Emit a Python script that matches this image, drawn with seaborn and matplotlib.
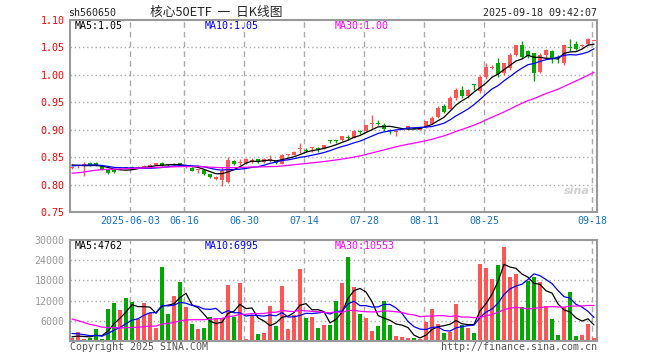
import numpy as np
import pandas as pd
import seaborn as sns
import matplotlib
matplotlib.use('Agg')
import matplotlib.pyplot as plt

# trading days shown: 2025-05-19 .. 2025-09-18 (06-02 holiday)
dates = pd.bdate_range('2025-05-19', '2025-09-18')
dates = dates[dates != pd.Timestamp('2025-06-02')]

open_ = [0.831, 0.833, 0.835, 0.840, 0.840, 0.833, 0.826, 0.826, 0.827, 0.831,
         0.832, 0.831, 0.832, 0.831, 0.836, 0.840, 0.837, 0.836, 0.839, 0.832,
         0.831, 0.827, 0.826, 0.819, 0.811, 0.809, 0.805, 0.843, 0.840, 0.840,
         0.843, 0.846, 0.842, 0.845, 0.843, 0.838, 0.854, 0.854, 0.864, 0.863,
         0.866, 0.865, 0.865, 0.881, 0.881, 0.881, 0.886, 0.885, 0.897, 0.898,
         0.911, 0.913, 0.909, 0.899, 0.896, 0.900, 0.902, 0.904, 0.900, 0.905,
         0.911, 0.923, 0.943, 0.938, 0.958, 0.973, 0.961, 0.982, 0.970, 0.997,
         1.013, 1.022, 1.003, 1.012, 1.036, 1.054, 1.043, 1.039, 1.006, 1.036,
         1.044, 1.032, 1.021, 1.051, 1.056, 1.052, 1.056, 1.062]
high = [0.833, 0.836, 0.841, 0.841, 0.841, 0.834, 0.827, 0.827, 0.830, 0.831,
        0.833, 0.834, 0.835, 0.837, 0.840, 0.841, 0.838, 0.840, 0.840, 0.835,
        0.832, 0.829, 0.827, 0.820, 0.816, 0.832, 0.851, 0.845, 0.847, 0.848,
        0.848, 0.847, 0.848, 0.853, 0.845, 0.855, 0.856, 0.861, 0.875, 0.866,
        0.869, 0.868, 0.873, 0.881, 0.882, 0.889, 0.891, 0.899, 0.899, 0.909,
        0.926, 0.917, 0.913, 0.902, 0.900, 0.903, 0.907, 0.905, 0.904, 0.916,
        0.925, 0.944, 0.946, 0.961, 0.976, 0.980, 0.975, 0.984, 0.999, 1.021,
        1.018, 1.030, 1.022, 1.039, 1.055, 1.061, 1.046, 1.040, 1.039, 1.047,
        1.046, 1.036, 1.056, 1.065, 1.062, 1.056, 1.068, 1.062]
low = [0.829, 0.831, 0.815, 0.833, 0.833, 0.826, 0.820, 0.821, 0.826, 0.828,
       0.829, 0.830, 0.831, 0.830, 0.835, 0.834, 0.834, 0.833, 0.833, 0.830,
       0.824, 0.821, 0.818, 0.812, 0.809, 0.797, 0.803, 0.836, 0.836, 0.838,
       0.840, 0.840, 0.840, 0.842, 0.838, 0.837, 0.852, 0.853, 0.858, 0.859,
       0.859, 0.860, 0.864, 0.876, 0.876, 0.880, 0.882, 0.884, 0.893, 0.897,
       0.899, 0.909, 0.898, 0.893, 0.888, 0.899, 0.901, 0.901, 0.899, 0.903,
       0.910, 0.921, 0.931, 0.937, 0.955, 0.958, 0.958, 0.973, 0.967, 0.993,
       1.010, 0.997, 1.000, 1.009, 1.035, 1.030, 1.030, 0.988, 1.003, 1.030,
       1.021, 1.021, 1.018, 1.043, 1.046, 1.050, 1.054, 1.062]
close = [0.832, 0.835, 0.838, 0.835, 0.834, 0.827, 0.822, 0.823, 0.829, 0.830,
         0.831, 0.832, 0.834, 0.836, 0.839, 0.835, 0.836, 0.837, 0.834, 0.833,
         0.825, 0.828, 0.819, 0.813, 0.814, 0.825, 0.845, 0.838, 0.841, 0.846,
         0.844, 0.841, 0.846, 0.846, 0.839, 0.854, 0.855, 0.860, 0.865, 0.862,
         0.867, 0.864, 0.872, 0.880, 0.880, 0.888, 0.885, 0.898, 0.896, 0.908,
         0.913, 0.911, 0.901, 0.898, 0.898, 0.902, 0.906, 0.902, 0.903, 0.915,
         0.922, 0.940, 0.933, 0.958, 0.972, 0.961, 0.972, 0.981, 0.997, 1.014,
         1.014, 1.001, 1.021, 1.036, 1.054, 1.033, 1.034, 1.003, 1.036, 1.045,
         1.031, 1.030, 1.054, 1.049, 1.047, 1.055, 1.066, 1.062]
volume = [890, 2680, 500, 890, 3480, 500, 9430, 11220, 9140, 12710,
          11520, 6450, 11220, 8340, 3770, 21950, 7940, 13310, 17480, 10130,
          4970, 3480, 3770, 7050, 6750, 6800, 16600, 7050, 17180, 500,
          7750, 1990, 2280, 10330, 4370, 16290, 3480, 7650, 21350, 6750,
          7050, 3770, 4670, 4670, 12020, 17180, 24920, 15990, 7940, 6750,
          2880, 4370, 12020, 4670, 1390, 1090, 790, 790, 500, 5560,
          9430, 4960, 2280, 2580, 11100, 4670, 3770, 2280, 23000, 21800,
          18500, 22540, 28000, 19000, 19860, 10030, 17800, 18970, 17500, 10300,
          6650, 1700, 10000, 14500, 1500, 1900, 5000, 900]

# closes / volumes of the 29 sessions before the window (only feed the MAs)
prior_close = [0.812, 0.800, 0.778, 0.788, 0.797, 0.806, 0.812, 0.817, 0.817, 0.816,
               0.818, 0.820, 0.822, 0.824, 0.826, 0.825, 0.826, 0.825, 0.826, 0.827,
               0.828, 0.831, 0.833, 0.832, 0.838, 0.838, 0.842, 0.834, 0.833]
prior_volume = [16000, 18000, 17000, 14000, 15000, 12500, 12000, 11000, 11500, 10000,
                5000, 4500, 4000, 3800, 3500, 3500, 3550, 2700, 2800, 2650,
                3500, 3000, 3800, 2900, 2800, 1500, 1200, 1400, 1200]

tick_dates = ['2025-06-03', '2025-06-16', '2025-06-30', '2025-07-14',
              '2025-07-28', '2025-08-11', '2025-08-25', '2025-09-18']
tick_labels = ['2025-06-03', '06-16', '06-30', '07-14', '07-28', '08-11', '08-25', '09-18']
price_ticks = [0.75, 0.80, 0.85, 0.90, 0.95, 1.00, 1.05, 1.10]
vol_ticks = [6000, 12000, 18000, 24000, 30000]

RED = '#ff5555'
GREEN = '#00a800'
GRID = '#aaaaaa'

sns.set_style('white')
plt.rcParams['font.family'] = ['DejaVu Sans Mono', 'Noto Sans CJK SC']
plt.rcParams['font.size'] = 7.2

df = pd.DataFrame({'date': dates, 'open': open_, 'high': high, 'low': low,
                   'close': close, 'volume': volume})
df['idx'] = np.arange(len(df))
df['dir'] = np.where(df['close'] >= df['open'], 'up', 'down')

allc = pd.Series(prior_close + close)
allv = pd.Series(prior_volume + volume)
n0 = len(prior_close)
for n in (5, 10, 30):
    df['ma%d' % n] = allc.rolling(n).mean().iloc[n0:].values
    df['vma%d' % n] = allv.rolling(n).mean().iloc[n0:].values

W, H = 660, 360
fig = plt.figure(figsize=(W / 100, H / 100), dpi=100)


def axes_px(l, t, r, b):
    return fig.add_axes([l / W, 1 - b / H, (r - l) / W, (b - t) / H])


ax = axes_px(70, 20, 597, 212)
axv = axes_px(70, 240, 597, 341)

pos = {d: i for i, d in enumerate(df['date'].dt.strftime('%Y-%m-%d'))}
xt = [pos[d] - 1 / 3 for d in tick_dates]
xlim = (-1 / 3, 87.5)

# candles
cols = np.where(df['dir'] == 'up', RED, GREEN)
body_lo = np.minimum(df['open'], df['close'])
body_h = np.maximum((df['close'] - df['open']).abs(), 0.0018)
ax.vlines(df['idx'], df['low'], df['high'], colors=cols, linewidth=1, zorder=2)
ax.bar(df['idx'], body_h, bottom=body_lo, width=0.8, color=cols, linewidth=0, zorder=3)

for c, col in (('ma5', 'black'), ('ma10', 'blue'), ('ma30', '#ff00ff')):
    sns.lineplot(data=df, x='idx', y=c, color=col, linewidth=0.9, ax=ax, zorder=4)

sns.barplot(data=df, x='idx', y='volume', hue='dir', palette={'up': RED, 'down': GREEN},
            native_scale=True, dodge=False, width=0.8, errorbar=None, legend=False,
            saturation=1, linewidth=0, ax=axv, zorder=2)
for c, col in (('vma5', 'black'), ('vma10', 'blue'), ('vma30', '#ff00ff')):
    sns.lineplot(data=df, x='idx', y=c, color=col, linewidth=0.9, ax=axv, zorder=4)

for a in (ax, axv):
    a.set_xlim(*xlim)
    a.set_xlabel('')
    a.set_ylabel('')
    a.set_xticks(xt)
    a.grid(False)
    for x in xt:
        a.axvline(x, color=GRID, linewidth=1, linestyle=(0, (4, 3)), zorder=1)
    for s in a.spines.values():
        s.set_color('#999999')
        s.set_linewidth(1.5)
    a.tick_params(length=0)

ax.set_ylim(0.75, 1.10)
ax.set_yticks(price_ticks)
ax.set_yticklabels(['%.2f' % v for v in price_ticks], color='red')
ax.set_xticklabels(tick_labels, color='#1070c8')
ax.tick_params(axis='x', pad=3)
ax.tick_params(axis='y', pad=4)
for v in price_ticks[1:-1]:
    ax.axhline(v, color=GRID, linewidth=1, linestyle=(0, (1, 2)), zorder=1)

axv.set_ylim(0, 30000)
axv.set_yticks(vol_ticks)
axv.set_yticklabels([str(v) for v in vol_ticks], color='#999999')
axv.set_xticklabels([])
axv.tick_params(axis='y', pad=4)
for v in vol_ticks[:-1]:
    axv.axhline(v, color=GRID, linewidth=1, linestyle=(0, (1, 2)), zorder=1)


def ftext(x, y, s, **kw):
    fig.text(x / W, 1 - y / H, s, va='center', **kw)


ftext(68, 13, 'sh560650', fontsize=7.2)
ftext(216, 12, '核心50ETF  一  日K线图', ha='center', fontsize=9.2,
      family=['Noto Sans CJK SC'])
ftext(597, 13, '2025-09-18 09:42:07', ha='right', fontsize=7.2)

ftext(75, 26, 'MA5:1.05', color='black')
ftext(205, 26, 'MA10:1.05', color='blue')
ftext(335, 26, 'MA30:1.00', color='#ff00ff')
ftext(75, 246, 'MA5:4762', color='black')
ftext(205, 246, 'MA10:6995', color='blue')
ftext(335, 246, 'MA30:10553', color='#ff00ff')

ftext(70, 347, 'Copyright 2025 SINA.COM', color='#555555')
ftext(597, 347, 'http://finance.sina.com.cn', ha='right', color='#555555')
ftext(577, 191, 'sina', ha='center', color='#d0d0d0', fontsize=8,
      style='italic', fontweight='bold', family=['DejaVu Sans'])

fig.savefig('out.png', dpi=100)
